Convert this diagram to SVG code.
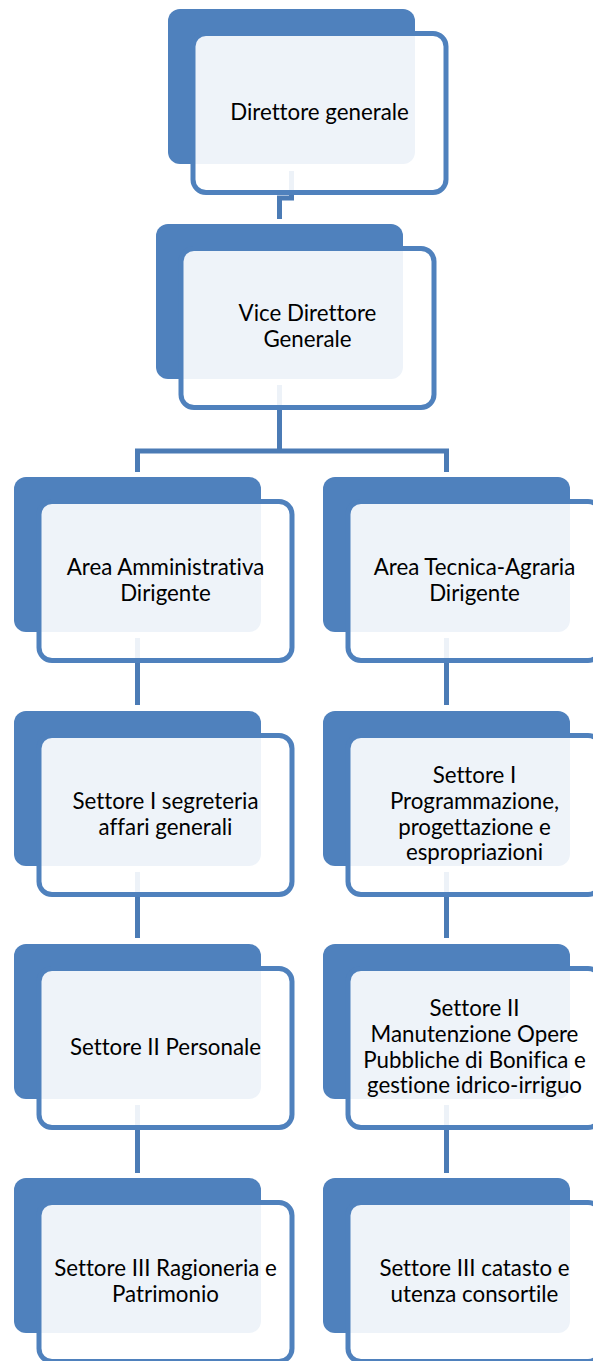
<svg xmlns="http://www.w3.org/2000/svg" width="593" height="1361" viewBox="0 0 593 1361">
<style>
.back{fill:#4F81BD;}
.front{fill:#FFFFFF;fill-opacity:0.9;stroke:#4F81BD;stroke-width:5;}
.conn{fill:none;stroke:#4B7BB5;stroke-width:5;}
.lbl{font-family:Lato,"Liberation Sans",sans-serif;font-size:22.3px;fill:#000;text-anchor:middle;font-variant-ligatures:none;}
</style>
<rect width="593" height="1361" fill="#FFFFFF"/>
<g id="connectors">
<path class="conn" d="M291.5,171 V198 H279.5 V219"/>
<path class="conn" d="M279.5,385 V451 M137.5,472 V451 H446.5 V472"/>
<path class="conn" d="M137.5,638 V705 M137.5,872 V938 M137.5,1105 V1173"/>
<path class="conn" d="M446.5,638 V705 M446.5,872 V938 M446.5,1105 V1173"/>
</g>
<g id="n-direttore">
<rect class="back" x="168" y="9" width="247" height="155" rx="12"/>
<rect class="front" x="193" y="33.5" width="253" height="159" rx="13"/>
<text class="lbl" x="319.5" y="120">Direttore generale</text>
</g>
<g id="n-vice">
<rect class="back" x="156" y="224" width="247" height="155" rx="12"/>
<rect class="front" x="181" y="248.5" width="253" height="159" rx="13"/>
<text class="lbl" x="307.5" y="321">Vice Direttore</text>
<text class="lbl" x="307.5" y="346.6">Generale</text>
</g>
<g id="n-area-amm">
<rect class="back" x="14" y="477" width="247" height="155" rx="12"/>
<rect class="front" x="39" y="501.5" width="253" height="159" rx="13"/>
<text class="lbl" x="165.5" y="575.2">Area Amministrativa</text>
<text class="lbl" x="165.5" y="600.8">Dirigente</text>
</g>
<g id="n-area-tec">
<rect class="back" x="323" y="477" width="247" height="155" rx="12"/>
<rect class="front" x="348" y="501.5" width="253" height="159" rx="13"/>
<text class="lbl" x="474.5" y="575.2">Area Tecnica-Agraria</text>
<text class="lbl" x="474.5" y="600.8">Dirigente</text>
</g>
<g id="n-sett1-amm">
<rect class="back" x="14" y="711" width="247" height="155" rx="12"/>
<rect class="front" x="39" y="735.5" width="253" height="159" rx="13"/>
<text class="lbl" x="165.5" y="809">Settore I segreteria</text>
<text class="lbl" x="165.5" y="834.6">affari generali</text>
</g>
<g id="n-sett1-tec">
<rect class="back" x="323" y="711" width="247" height="155" rx="12"/>
<rect class="front" x="348" y="735.5" width="253" height="159" rx="13"/>
<text class="lbl" x="474.5" y="783.4">Settore I</text>
<text class="lbl" x="474.5" y="809">Programmazione,</text>
<text class="lbl" x="474.5" y="834.6">progettazione e</text>
<text class="lbl" x="474.5" y="860.2">espropriazioni</text>
</g>
<g id="n-sett2-amm">
<rect class="back" x="14" y="944" width="247" height="155" rx="12"/>
<rect class="front" x="39" y="968.5" width="253" height="159" rx="13"/>
<text class="lbl" x="165.5" y="1055">Settore II Personale</text>
</g>
<g id="n-sett2-tec">
<rect class="back" x="323" y="944" width="247" height="155" rx="12"/>
<rect class="front" x="348" y="968.5" width="253" height="159" rx="13"/>
<text class="lbl" x="474.5" y="1016.4">Settore II</text>
<text class="lbl" x="474.5" y="1042">Manutenzione Opere</text>
<text class="lbl" x="474.5" y="1067.6">Pubbliche di Bonifica e</text>
<text class="lbl" x="474.5" y="1093.2">gestione idrico-irriguo</text>
</g>
<g id="n-sett3-amm">
<rect class="back" x="14" y="1178" width="247" height="155" rx="12"/>
<rect class="front" x="39" y="1202.5" width="253" height="159" rx="13"/>
<text class="lbl" x="165.5" y="1276.2">Settore III Ragioneria e</text>
<text class="lbl" x="165.5" y="1301.8">Patrimonio</text>
</g>
<g id="n-sett3-tec">
<rect class="back" x="323" y="1178" width="247" height="155" rx="12"/>
<rect class="front" x="348" y="1202.5" width="253" height="159" rx="13"/>
<text class="lbl" x="474.5" y="1276.2">Settore III catasto e</text>
<text class="lbl" x="474.5" y="1301.8">utenza consortile</text>
</g>
</svg>
